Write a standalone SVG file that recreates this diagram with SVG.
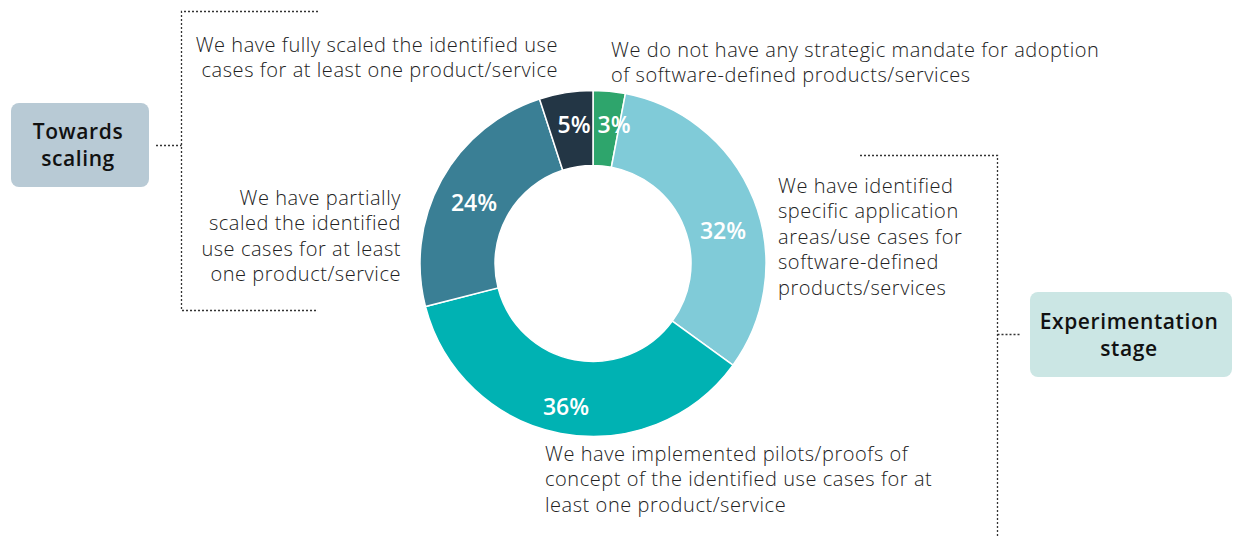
<svg xmlns="http://www.w3.org/2000/svg" width="1241" height="536" viewBox="0 0 1241 536">
<style>
text{font-family:"Open Sans","Noto Sans","Liberation Sans",sans-serif}
.lbl{font-size:20px;font-weight:300;fill:#222;letter-spacing:0.55px}
.pct{font-size:23px;font-weight:600;fill:#fff;text-anchor:middle}
.stage{font-size:21px;font-weight:600;fill:#111;text-anchor:middle;letter-spacing:0.6px}
.seg{stroke:#fff;stroke-width:1.5}
.dot{fill:none;stroke:#333;stroke-width:1.3;stroke-dasharray:2 2}
</style>
<rect width="1241" height="536" fill="#fff"/>
<g id="connectors">
<path class="dot" d="M318,11.5 H181.5 V310.5 H318"/>
<path class="dot" d="M156,145.5 H181.5"/>
<path class="dot" d="M860,155.5 H997.5 V536"/>
<path class="dot" d="M997.5,334.5 H1020"/>
</g>
<g id="donut">
<path class="seg" fill="#2ea56c" d="M593,90.5 A173,173 0 0 1 625.42,93.56 L611.36,167.24 A98,98 0 0 0 593,165.5 Z"/>
<path class="seg" fill="#80cbd8" d="M625.42,93.56 A173,173 0 0 1 732.96,365.19 L672.28,321.1 A98,98 0 0 0 611.36,167.24 Z"/>
<path class="seg" fill="#00b2b3" d="M732.96,365.19 A173,173 0 0 1 425.44,306.52 L498.08,287.87 A98,98 0 0 0 672.28,321.1 Z"/>
<path class="seg" fill="#3a7f95" d="M425.44,306.52 A173,173 0 0 1 539.54,98.97 L562.72,170.3 A98,98 0 0 0 498.08,287.87 Z"/>
<path class="seg" fill="#233645" d="M539.54,98.97 A173,173 0 0 1 593,90.5 L593,165.5 A98,98 0 0 0 562.72,170.3 Z"/>
<text class="pct" x="614" y="133">3%</text>
<text class="pct" x="574" y="133">5%</text>
<text class="pct" x="474" y="211">24%</text>
<text class="pct" x="723" y="239">32%</text>
<text class="pct" x="566" y="415">36%</text>
</g>
<g id="node-towards-scaling">
<rect x="11" y="103" width="138" height="84" rx="8" fill="#b8cad5"/>
<text class="stage" x="78" y="139">Towards</text>
<text class="stage" x="78" y="166">scaling</text>
</g>
<g id="node-experimentation">
<rect x="1030" y="292" width="202" height="85" rx="8" fill="#cbe6e4"/>
<text class="stage" x="1129" y="329">Experimentation</text>
<text class="stage" x="1129" y="356">stage</text>
</g>
<g id="label-fully">
<text class="lbl" text-anchor="end" x="558" y="52">We have fully scaled the identified use</text>
<text class="lbl" text-anchor="end" x="558" y="77">cases for at least one product/service</text>
</g>
<g id="label-partially">
<text class="lbl" text-anchor="end" x="401" y="205">We have partially</text>
<text class="lbl" text-anchor="end" x="401" y="230">scaled the identified</text>
<text class="lbl" text-anchor="end" x="401" y="256">use cases for at least</text>
<text class="lbl" text-anchor="end" x="401" y="281">one product/service</text>
</g>
<g id="label-mandate">
<text class="lbl" x="611" y="57">We do not have any strategic mandate for adoption</text>
<text class="lbl" x="611" y="82">of software-defined products/services</text>
</g>
<g id="label-identified">
<text class="lbl" x="778" y="193">We have identified</text>
<text class="lbl" x="778" y="218">specific application</text>
<text class="lbl" x="778" y="244">areas/use cases for</text>
<text class="lbl" x="778" y="269">software-defined</text>
<text class="lbl" x="778" y="295">products/services</text>
</g>
<g id="label-pilots">
<text class="lbl" x="545" y="461">We have implemented pilots/proofs of</text>
<text class="lbl" x="545" y="486">concept of the identified use cases for at</text>
<text class="lbl" x="545" y="512">least one product/service</text>
</g>
</svg>
